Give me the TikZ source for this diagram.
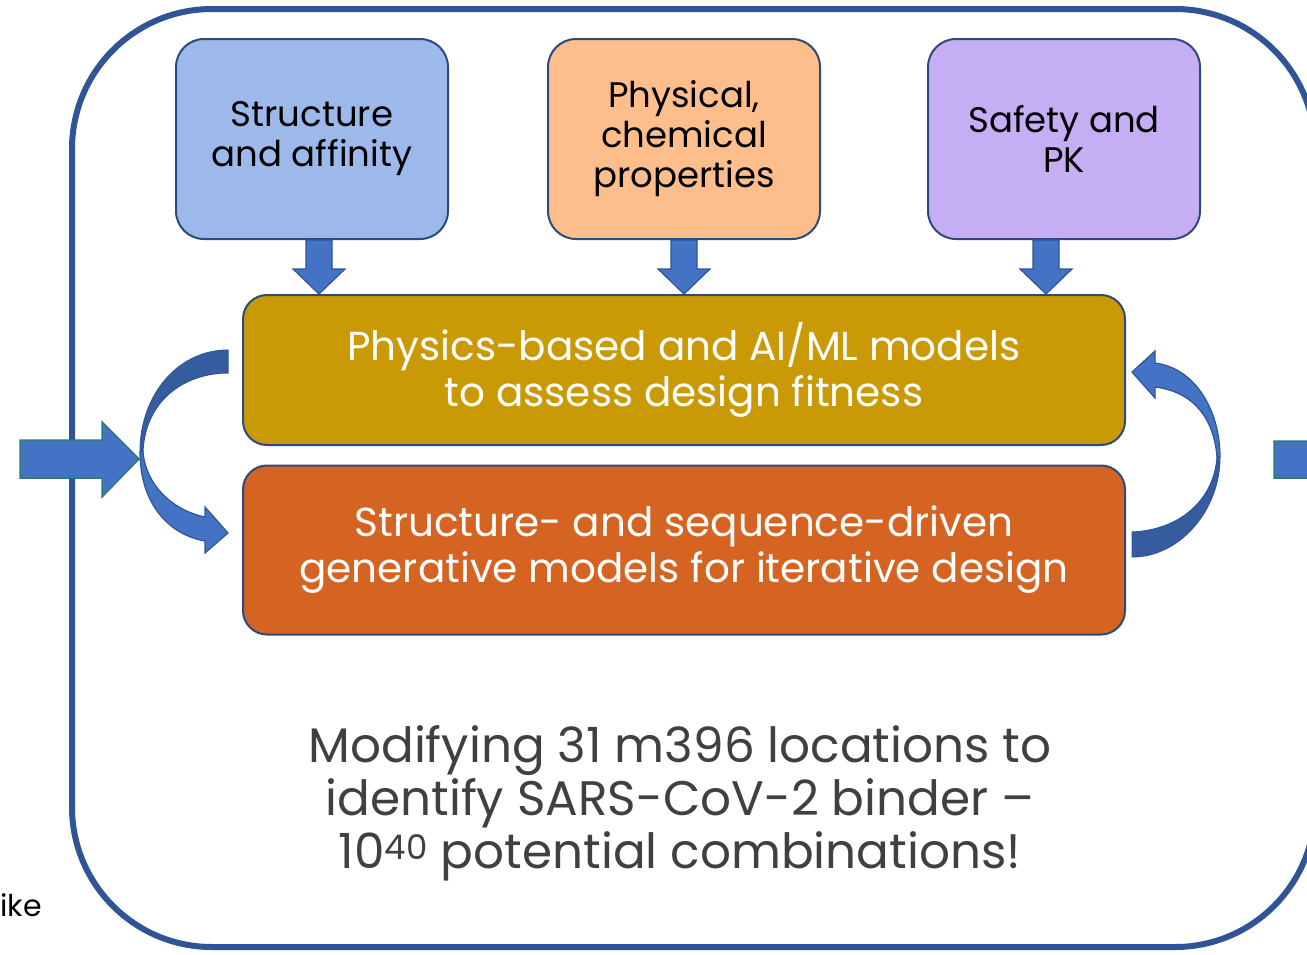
\documentclass[tikz,border=0pt]{standalone}
\usepackage{fontspec}
\setmainfont{Poppins}
\usetikzlibrary{calc}
\definecolor{framebl}{HTML}{2F5597}
\definecolor{arrowbl}{HTML}{4472C4}
\definecolor{arrowdk}{HTML}{345C9E}
\definecolor{tealedge}{HTML}{2A7A7E}
\definecolor{boxedge}{HTML}{2E4A78}
\definecolor{bluebox}{HTML}{9DB8EA}
\definecolor{peachbox}{HTML}{FDBE8C}
\definecolor{lilacbox}{HTML}{C5AEF4}
\definecolor{goldbox}{HTML}{C99A06}
\definecolor{rustbox}{HTML}{D56423}
\definecolor{greytext}{HTML}{404040}
\tikzset{
  topbox/.style={draw=boxedge, line width=2pt, rounded corners=28pt, inner sep=0pt,
    minimum width=272pt, minimum height=200pt, align=center,
    font=\fontsize{35.5}{40}\selectfont},
  midbox/.style={draw=boxedge, line width=2pt, rounded corners=24pt, inner sep=0pt,
    minimum width=882pt, align=center, text=white,
    font=\fontsize{40.5}{46}\selectfont},
  blockarrow/.style={fill=arrowbl, draw=framebl, line width=1.2pt},
  inarrow/.style={fill=arrowbl, draw=tealedge, line width=1.5pt},
}
% block arrow pointing down from one box to the next
\newcommand\dnarrow[3][0]{%
  \path[blockarrow] let \p1=($(#2.south)+(#1,0)$), \p2=(#3.north) in
    (\x1-13pt,\y1) -- (\x1+13pt,\y1) -- (\x1+13pt,\y2+25pt) -- (\x1+26pt,\y2+25pt)
    -- (\x1,\y2) -- (\x1-26pt,\y2+25pt) -- (\x1-13pt,\y2+25pt) -- cycle;}
\begin{document}
\begin{tikzpicture}[x=1pt,y=-1pt]
\useasboundingbox (0,0) rectangle (1307,954);
% outer frame
\draw[framebl, line width=6pt, rounded corners=140pt] (72,9) rectangle (1315,947);
% input and output arrows
\path[inarrow] (20,440) -- (102,440) -- (102,422) -- (139,459) -- (102,497) -- (102,478) -- (20,478) -- cycle;
\path[inarrow] (1274,441) -- (1356,441) -- (1356,423) -- (1393,460) -- (1356,498) -- (1356,478) -- (1274,478) -- cycle;
% property boxes
\node[topbox, fill=bluebox] (sa) at (312,139) {Structure\\and affinity};
\node[topbox, fill=peachbox] (pc) at (684,139) {Physical,\\chemical\\properties};
\node[topbox, fill=lilacbox] (sp) at (1064,139) {Safety and\\PK};
% model boxes
\node[midbox, fill=goldbox, minimum height=150pt] (fit) at (684,370)
  {Physics-based and AI/ML models\\to assess design fitness};
\node[midbox, fill=rustbox, minimum height=169pt] (gen) at (684,550)
  {Structure- and sequence-driven\\generative models for iterative design};
\dnarrow[7]{sa}{fit}
\dnarrow{pc}{fit}
\dnarrow[-18]{sp}{fit}
% loop arrow, left side
\path[fill=arrowdk, draw=framebl, line width=1pt] (228,350) .. controls (178,350) and (140,395) .. (140,452)
  -- (143,452) .. controls (145,400) and (185,373) .. (228,373) -- cycle;
\path[blockarrow] (140,452) .. controls (140,505) and (170,535) .. (205,541) -- (205,553) -- (228,533)
  -- (205,507) -- (205,517) .. controls (172,510) and (146,485) .. (143,452) -- cycle;
% loop arrow, right side
\path[fill=arrowdk, draw=framebl, line width=1pt] (1132,532) .. controls (1180,530) and (1214,500) .. (1217,457)
  -- (1220,457) .. controls (1220,510) and (1180,557) .. (1132,557) -- cycle;
\path[blockarrow] (1217,457) .. controls (1214,420) and (1195,392) .. (1155,387) -- (1155,398) -- (1132,372)
  -- (1155,351) -- (1155,363) .. controls (1195,368) and (1220,410) .. (1220,457) -- cycle;
% caption
\node[align=center, text=greytext, font=\fontsize{48.5}{53}\selectfont] (cap) at (680,803)
  {Modifying 31 m396 locations to\\identify SARS-CoV-2 binder --\\10\textsuperscript{40} potential combinations!};
\node[anchor=base west, font=\fontsize{30}{34}\selectfont] (cut) at (-3,916) {ike};
\end{tikzpicture}
\end{document}
